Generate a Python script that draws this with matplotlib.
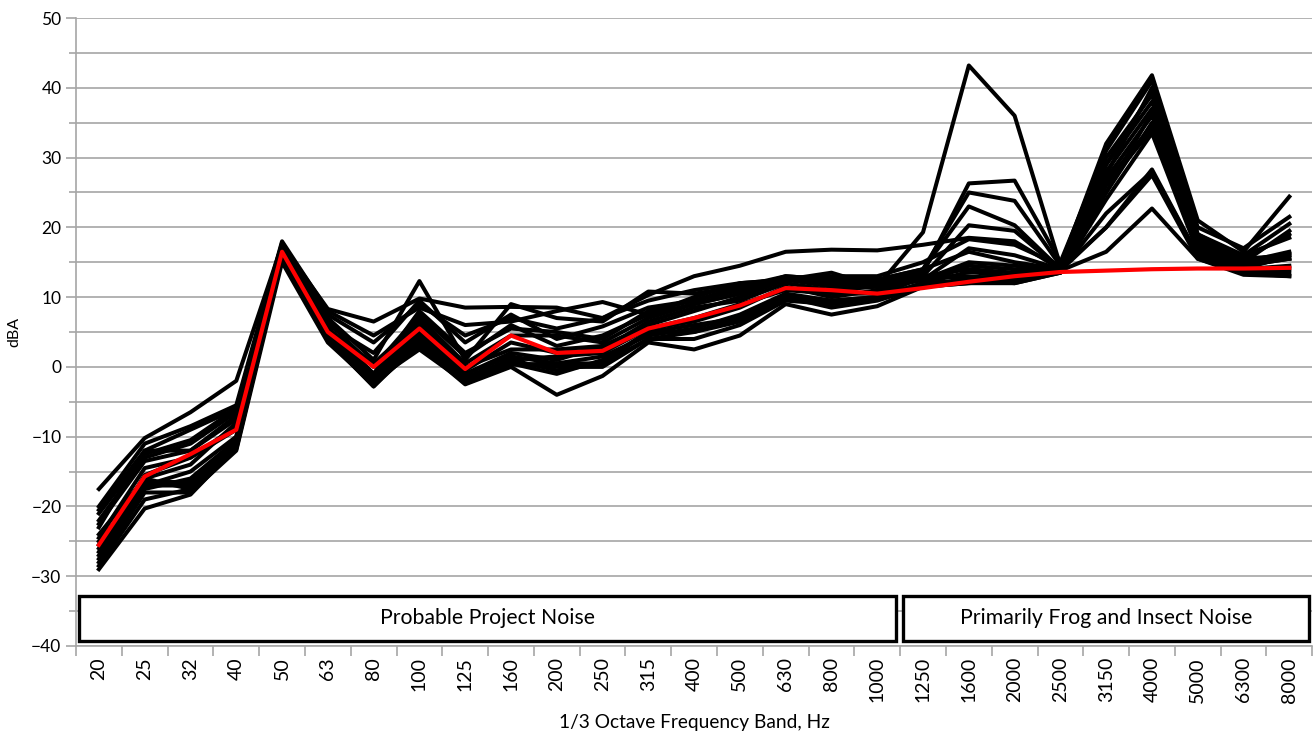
import matplotlib
matplotlib.use("Agg")
import matplotlib.pyplot as plt
from matplotlib.patches import Rectangle
from matplotlib.ticker import MultipleLocator

plt.rcParams['font.family'] = ['Lato', 'DejaVu Sans']

bands = ["20", "25", "32", "40", "50", "63", "80", "100", "125", "160", "200", "250",
         "315", "400", "500", "630", "800", "1000", "1250", "1600", "2000", "2500",
         "3150", "4000", "5000", "6300", "8000"]

s01 = [-17.5, -10.2, -6.5, -2, 17.5, 8.3, 6.5, 9.8, 8.5, 8.6, 8.5, 7, 10.3, 13, 14.5, 16.5, 16.8, 16.7, 17.5, 18.5, 18, 14, 20, 28.3, 16, 14.5, 15.5]
s02 = [-20, -11, -8.5, -5.5, 18, 8, 4.5, 8.5, 6, 6.5, 8, 9.3, 7.5, 10, 12, 12.5, 13.5, 11.5, 19.3, 43.2, 36, 14.5, 32, 41.8, 21, 16.5, 24.4]
s03 = [-21, -12.5, -10.5, -6, 17.8, 7, 1, 12.3, 1, 9, 7, 6.5, 10.8, 10.5, 11.5, 13, 12.5, 12, 13.5, 26.3, 26.7, 15, 31, 41, 20, 17, 21.5]
s04 = [-22, -13, -11, -6.5, 17.2, 6, 2, 9.5, 3.5, 7.5, 4, 5.8, 8.5, 9.5, 11.5, 12.5, 12, 11.5, 14, 25, 23.8, 14.5, 29, 38, 19, 16, 20.5]
s05 = [-23, -12, -12, -7.5, 17, 5.5, -1, 8, 2, 5.5, 5, 4, 8, 9.5, 11, 13, 12.5, 12.5, 14, 23, 20.3, 14, 28, 37, 18.5, 15.5, 19]
s06 = [-24, -16, -14, -8, 16.5, 5, -1.5, 7, 0.5, 4.5, 4.5, 3.5, 7, 9, 10.5, 12.5, 12, 12, 13, 20.3, 19.5, 14, 27, 36, 18, 15, 19.5]
s07 = [-25, -17, -15, -10, 16, 4.5, -2, 6, -1, 2, 1, 3, 6, 8, 10, 12.5, 11.5, 11.5, 12.5, 17, 16, 14, 25, 35, 17.5, 15, 16.5]
s08 = [-26, -16.5, -16.5, -11, 15.5, 4, -2.5, 5, -1.5, 1, 1.5, 2, 5.5, 6.5, 8.5, 11.5, 10, 11, 12.5, 15, 14.5, 13.8, 26, 34, 17, 14.5, 15.5]
s09 = [-27, -17, -17, -11.5, 15.5, 3.8, -2.8, 4, -2, 0.5, -1, 1, 5, 5, 7, 10, 9, 10, 12, 13.6, 13, 13.5, 24, 33.5, 16.5, 14, 16]
s10 = [-28, -18, -18, -12, 15, 3.5, -2.5, 3, -2.5, 0, -4, -1.3, 3.5, 2.5, 4.5, 9, 7.5, 8.7, 11.5, 12, 12.5, 13.5, 27.5, 40, 18, 14, 14.5]
s11 = [-29, -20.3, -18.3, -11.5, 16, 4.5, -2, 2.5, -2.2, 0.5, 0, 0, 4, 4, 6, 9.5, 9, 10, 12, 12.5, 12, 13.5, 30, 39, 16, 13.5, 13]
s12 = [-26.5, -15.5, -13, -9, 16.8, 5.5, 0.5, 6.5, 0, 2.5, 2.5, 3, 5.5, 7, 9, 11, 10.5, 10.5, 13, 12.8, 13, 13.7, 22, 28, 16, 14, 14]
s13 = [-25.5, -16, -17.5, -10, 16.5, 4.8, -1.5, 5.5, -1, 1.5, 0.5, 1.5, 4.5, 5.5, 7.5, 10.5, 9.5, 10, 12, 14.5, 14, 13.8, 20, 27.5, 15.5, 13.5, 13.5]
s14 = [-27.5, -17.5, -16, -10.5, 16.2, 4.2, -2.2, 4.5, -2, 1, -0.5, 0.5, 5, 6, 7, 10, 9.5, 10, 13, 13, 12.5, 13.8, 16.5, 22.7, 15.5, 13.2, 13]
s15 = [-20.5, -12, -9, -6, 17.5, 7.5, 3.5, 9, 4.5, 7, 5.5, 7, 9.5, 11, 12, 12.5, 13, 13, 15, 18.3, 17.5, 14.5, 31.5, 41.5, 19, 15.5, 16]
s16 = [-22.5, -13.5, -12, -7, 17, 6.5, 0, 7.5, 1.5, 6, 3, 4.5, 7.5, 9, 10.5, 12.5, 12, 12.5, 14, 16.5, 15, 14, 29, 39.5, 18.5, 16, 18.5]
s17 = [-24.5, -14.5, -13, -8.5, 16.8, 5.5, -1, 6.5, -0.5, 3.5, 2, 2.5, 6.5, 8.5, 9.5, 12, 11, 11.5, 13, 14, 13.5, 14, 26.5, 34.5, 17.5, 15, 15.5]
s18 = [-28.5, -19, -17.5, -11.8, 15.8, 4, -2.8, 3.5, -2.4, 0.3, 0.5, 0.5, 4, 5, 6.5, 10, 8.5, 9.5, 11.5, 12, 12, 13.5, 25, 36.5, 17, 14.5, 16.3]

black_series = [s01, s02, s03, s04, s05, s06, s07, s08, s09, s10,
                s11, s12, s13, s14, s15, s16, s17, s18]

average = [-25.5, -15.7, -12.5, -9, 16.5, 5, 0, 5.5, -0.3, 4.5, 2, 2.3, 5.5, 7, 8.8,
           11.3, 11, 10.5, 11.3, 12.2, 13, 13.6, 13.8, 14, 14.1, 14.1, 14.2]

region_labels = ["Probable Project Noise", "Primarily Frog and Insect Noise"]

fig = plt.figure(figsize=(13.13, 7.33), dpi=100)
ax = fig.add_axes([0.0579, 0.1187, 0.9415, 0.8567])

x = list(range(len(bands)))
for s in black_series:
    ax.plot(x, s, color='black', lw=2.9, zorder=3)
ax.plot(x, average, color='#FF0000', lw=3.0, zorder=4)

ax.set_xlim(-0.5, len(bands) - 0.5)
ax.set_ylim(-40, 50)
ax.yaxis.set_major_locator(MultipleLocator(10))
ax.yaxis.set_minor_locator(MultipleLocator(5))
ax.grid(True, which='both', axis='y', color='#A6A6A6', lw=1.2, zorder=0)
ax.set_axisbelow(True)

ax.set_xticks(x)
ax.set_xticklabels(bands, rotation=90, fontsize=14, va='top')
ax.set_xticks([i - 0.5 for i in range(len(bands) + 1)], minor=True)
ax.tick_params(axis='x', which='major', length=0, pad=8)
ax.tick_params(axis='x', which='minor', length=7, color='#A6A6A6', width=1.2)
ax.tick_params(axis='y', which='major', length=7, color='#A6A6A6', width=1.2, labelsize=12.5)
ax.tick_params(axis='y', which='minor', length=5, color='#A6A6A6', width=1.2)

for sp in ['top', 'right']:
    ax.spines[sp].set_visible(False)
for sp in ['left', 'bottom']:
    ax.spines[sp].set_color('#A6A6A6')
    ax.spines[sp].set_linewidth(1.2)

ax.set_ylabel('dBA', fontsize=11.5)
ax.yaxis.set_label_coords(-0.044, 0.5)
ax.set_xlabel('1/3 Octave Frequency Band, Hz', fontsize=13.8)
ax.xaxis.set_label_coords(0.5, -0.108)

boxes = [(-0.44, 17.41), (17.57, 26.44)]
for (x0, x1), lab in zip(boxes, region_labels):
    ax.add_patch(Rectangle((x0, -39.3), x1 - x0, 6.5, facecolor='white',
                           edgecolor='black', lw=2.4, zorder=5, clip_on=False))
    ax.text((x0 + x1) / 2, -36.05, lab, ha='center', va='center',
            fontsize=15.3, zorder=6)

fig.savefig('out.png', dpi=100)
